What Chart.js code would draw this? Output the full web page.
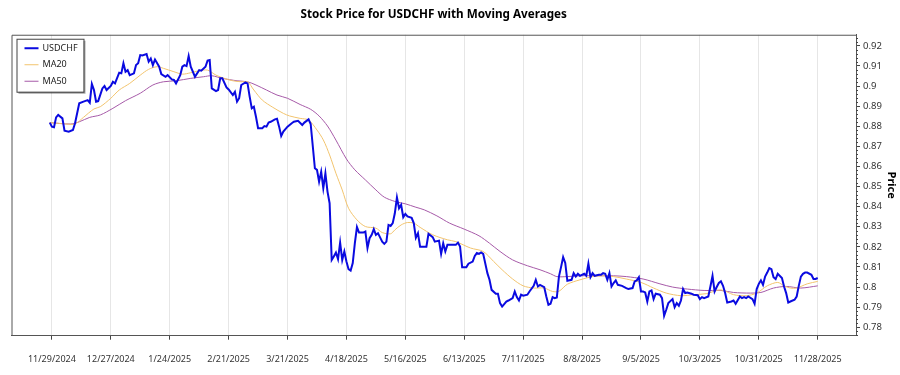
<!DOCTYPE html>
<html>
<head>
<meta charset="utf-8">
<script src="https://cdn.jsdelivr.net/npm/chart.js@4/dist/chart.umd.min.js"></script>
<style>
html,body{margin:0;padding:0;background:#fff;}
#wrap{width:900px;height:375px;position:relative;}
</style>
</head>
<body>
<div id="wrap"><canvas id="c" width="900" height="375"></canvas></div>
<script>
// Base date for day offsets
const BASE_DATE = "11/29/2024";
const xTickLabels = ["11/29/2024","12/27/2024","1/24/2025","2/21/2025","3/21/2025","4/18/2025","5/16/2025","6/13/2025","7/11/2025","8/8/2025","9/5/2025","10/3/2025","10/31/2025","11/28/2025"];
const yTickValues = [0.78,0.79,0.80,0.81,0.82,0.83,0.84,0.85,0.86,0.87,0.88,0.89,0.90,0.91,0.92];

// USDCHF close (days since BASE_DATE)
const priceDays = [-1,0,1,2,3,5,6,8,10,11,13,15,17,18,19,20,21,22,24,25,26,28,29,30,32,33,34,35,36,37,39,40,41,42,43,45,46,47,48,49,51,52,54,55,57,58,59,61,62,63,64,65,66,68,70,71,73,74,75,76,78,79,80,81,83,84,86,87,88,89,90,92,93,94,95,96,97,98,100,101,102,103,104,106,107,108,109,110,112,114,115,117,119,120,122,123,125,126,127,128,129,130,131,132,133,134,135,136,137,138,139,140,141,142,143,144,145,146,148,149,150,151,152,153,154,155,157,158,159,160,161,162,163,164,165,166,167,168,169,171,172,173,174,175,176,178,179,181,182,184,185,186,187,188,190,192,193,194,195,197,198,200,201,202,203,204,205,207,208,209,211,212,213,214,216,217,219,220,221,222,223,224,226,227,229,230,231,232,234,235,236,237,238,239,240,241,242,243,244,245,247,248,249,250,251,253,254,255,256,257,258,260,261,262,263,264,265,266,267,268,269,271,273,274,276,277,278,279,280,281,282,283,284,285,286,287,289,290,291,292,293,295,296,297,298,299,300,301,302,304,305,307,308,309,310,312,313,314,315,316,317,318,319,320,321,323,324,325,327,328,329,330,331,333,334,335,336,337,338,339,340,341,342,343,344,345,347,348,349,350,351,353,354,355,356,357,358,359,361,362,363,364];
const priceValues = [0.8818,0.8798,0.8795,0.8844,0.8856,0.8839,0.8778,0.8773,0.8781,0.8815,0.8914,0.8922,0.8930,0.8917,0.9010,0.8980,0.8922,0.8925,0.8988,0.9000,0.8980,0.9000,0.9021,0.9013,0.9066,0.9063,0.9113,0.9071,0.9079,0.9054,0.9063,0.9104,0.9113,0.9154,0.9152,0.9159,0.9121,0.9137,0.9104,0.9132,0.9096,0.9059,0.9046,0.9054,0.9033,0.9030,0.9013,0.9054,0.9096,0.9104,0.9099,0.9149,0.9096,0.9046,0.9079,0.9076,0.9096,0.9126,0.9129,0.8988,0.8975,0.8980,0.9038,0.9038,0.8993,0.8983,0.8955,0.8971,0.8922,0.8939,0.9005,0.9018,0.9013,0.8947,0.8889,0.8897,0.8847,0.8790,0.8790,0.8801,0.8798,0.8818,0.8822,0.8834,0.8837,0.8798,0.8751,0.8773,0.8798,0.8815,0.8822,0.8827,0.8806,0.8818,0.8834,0.8811,0.8591,0.8583,0.8524,0.8574,0.8492,0.8566,0.8475,0.8417,0.8135,0.8152,0.8172,0.8139,0.8221,0.8135,0.8177,0.8127,0.8089,0.8082,0.8119,0.8218,0.8298,0.8271,0.8271,0.8276,0.8194,0.8243,0.8260,0.8288,0.8260,0.8268,0.8226,0.8215,0.8226,0.8309,0.8304,0.8318,0.8367,0.8446,0.8392,0.8409,0.8347,0.8364,0.8351,0.8344,0.8318,0.8245,0.8268,0.8201,0.8201,0.8201,0.8265,0.8248,0.8226,0.8231,0.8165,0.8218,0.8177,0.8210,0.8210,0.8210,0.8221,0.8201,0.8099,0.8099,0.8116,0.8127,0.8155,0.8169,0.8165,0.8172,0.8165,0.8069,0.8036,0.7986,0.7967,0.7967,0.7920,0.7903,0.7928,0.7933,0.7945,0.7978,0.7950,0.7933,0.7962,0.7957,0.7962,0.7978,0.8006,0.8036,0.8003,0.8011,0.8000,0.7953,0.7912,0.7917,0.7950,0.7945,0.7948,0.8052,0.8099,0.8149,0.8120,0.8031,0.8036,0.8069,0.8052,0.8066,0.8056,0.8066,0.8056,0.8116,0.8049,0.8069,0.8056,0.8061,0.8061,0.8069,0.8066,0.8036,0.8069,0.8003,0.8020,0.8033,0.8011,0.8006,0.7995,0.7990,0.7995,0.8028,0.8033,0.8049,0.7978,0.7978,0.7973,0.7928,0.7978,0.7983,0.7940,0.7967,0.7962,0.7945,0.7857,0.7887,0.7920,0.7940,0.7900,0.7920,0.7907,0.7933,0.7990,0.7970,0.7973,0.7967,0.7962,0.7959,0.7940,0.7950,0.7945,0.7953,0.8003,0.8056,0.7978,0.8000,0.8020,0.8028,0.8006,0.7970,0.7923,0.7928,0.7933,0.7917,0.7953,0.7945,0.7950,0.7945,0.7953,0.7940,0.7917,0.7990,0.8016,0.8033,0.8011,0.8052,0.8072,0.8094,0.8089,0.8049,0.8040,0.8066,0.8045,0.8003,0.7970,0.7923,0.7928,0.7937,0.7953,0.8006,0.8052,0.8066,0.8072,0.8072,0.8061,0.8040,0.8040,0.8045];

// 20-day moving average
const ma20Days = [-1,7,11,15,20,23,28,32,37,42,46,50,53,58,62,66,70,74,78,82,86,90,93,96,100,105,110,113,118,122,126,129,132,135,138,141,145,149,154,157,161,163,166,169,172,175,181,188,192,199,205,210,214,219,224,229,234,238,241,245,251,257,262,267,273,280,286,292,299,305,311,318,324,330,335,340,345,348,351,354,359,364];
const ma20Values = [0.8818,0.8811,0.8811,0.8844,0.8886,0.8897,0.8939,0.8980,0.9013,0.9054,0.9083,0.9096,0.9088,0.9071,0.9059,0.9066,0.9076,0.9079,0.9054,0.9038,0.9026,0.9021,0.9021,0.8980,0.8930,0.8894,0.8864,0.8851,0.8839,0.8831,0.8781,0.8732,0.8657,0.8566,0.8483,0.8392,0.8334,0.8301,0.8293,0.8271,0.8265,0.8284,0.8309,0.8321,0.8318,0.8297,0.8260,0.8235,0.8226,0.8194,0.8177,0.8127,0.8086,0.8040,0.8006,0.7995,0.7995,0.7978,0.7979,0.8014,0.8036,0.8052,0.8056,0.8052,0.8040,0.8023,0.7995,0.7970,0.7957,0.7962,0.7967,0.7986,0.7962,0.7957,0.7970,0.8006,0.8023,0.8006,0.7995,0.7995,0.8016,0.8028];

// 50-day moving average
const ma50Days = [-1,9,13,18,23,29,35,42,48,53,59,66,72,76,81,88,93,97,102,107,112,118,123,127,131,135,140,144,149,154,158,163,168,173,177,183,189,196,203,208,213,219,226,232,237,240,245,251,260,267,273,281,289,295,302,310,318,324,332,337,343,349,356,364];
const ma50Values = [0.8818,0.8811,0.8822,0.8844,0.8856,0.8889,0.8927,0.8964,0.9005,0.9021,0.9026,0.9038,0.9046,0.9051,0.9038,0.9026,0.9021,0.9005,0.8980,0.8955,0.8939,0.8908,0.8884,0.8851,0.8801,0.8731,0.8637,0.8583,0.8533,0.8483,0.8447,0.8426,0.8414,0.8397,0.8384,0.8354,0.8318,0.8288,0.8255,0.8218,0.8177,0.8135,0.8106,0.8086,0.8066,0.8052,0.8052,0.8056,0.8056,0.8056,0.8052,0.8040,0.8016,0.8000,0.7990,0.7983,0.7983,0.7973,0.7970,0.7973,0.7995,0.8003,0.7995,0.8006];

function parseMDY(s){const p=s.split('/').map(Number);return Date.UTC(p[2],p[0]-1,p[1]);}
const base = parseMDY(BASE_DATE);
const dayOf = s => Math.round((parseMDY(s)-base)/86400000);
const xTickDays = xTickLabels.map(dayOf);
const toPts = (xs, ys) => xs.map((x,i)=>({x:x,y:ys[i]}));

const FONT = "'Noto Sans', 'Open Sans', sans-serif";

const frame = {
  id:'frame',
  afterDatasetsDraw(chart){
    const {ctx, chartArea:a} = chart;
    const ys = chart.scales.y;
    ctx.save();
    // left & top border
    ctx.strokeStyle = '#555';
    ctx.lineWidth = 1;
    ctx.beginPath();
    ctx.moveTo(a.left+0.5, a.bottom); ctx.lineTo(a.left+0.5, a.top+0.5); ctx.lineTo(a.right, a.top+0.5);
    ctx.stroke();
    // minor ticks on right axis
    ctx.strokeStyle = '#444';
    ctx.beginPath();
    for (let k = 776; k <= 925; k += 2) {
      if (k % 10 === 0) continue;
      const py = Math.round(ys.getPixelForValue(k/1000)) + 0.5;
      ctx.moveTo(a.right, py); ctx.lineTo(a.right+2, py);
    }
    ctx.stroke();
    // legend box
    const lx = a.left + 5, ly = a.top + 4, lw = 67, lh = 53;
    ctx.fillStyle = 'rgba(0,0,0,0.35)';
    ctx.fillRect(lx+2, ly+2, lw, lh);
    ctx.fillStyle = '#fff';
    ctx.fillRect(lx, ly, lw, lh);
    ctx.strokeStyle = '#444';
    ctx.strokeRect(lx+0.5, ly+0.5, lw, lh);
    ctx.font = "9px " + FONT;
    ctx.textBaseline = 'middle';
    chart.data.datasets.forEach((ds, i) => {
      const yy = ly + 9.5 + i*16.5;
      ctx.strokeStyle = ds.borderColor;
      ctx.lineWidth = ds.borderWidth;
      ctx.beginPath(); ctx.moveTo(lx+8, yy); ctx.lineTo(lx+22, yy); ctx.stroke();
      ctx.fillStyle = '#222';
      ctx.fillText(ds.label, lx+26, yy);
    });
    ctx.restore();
  }
};

new Chart(document.getElementById('c'), {
  type: 'line',
  data: {
    datasets: [
      {label:'USDCHF', data: toPts(priceDays, priceValues), borderColor:'#0a0ae0', borderWidth:2, pointRadius:0, tension:0},
      {label:'MA20', data: toPts(ma20Days, ma20Values), borderColor:'#f2c46e', borderWidth:1, pointRadius:0, tension:0.3},
      {label:'MA50', data: toPts(ma50Days, ma50Values), borderColor:'#a65aa8', borderWidth:1, pointRadius:0, tension:0.3}
    ]
  },
  options: {
    responsive:false,
    animation:false,
    devicePixelRatio:1,
    layout:{padding:{left:11.5, right:0, top:0, bottom:0}},
    plugins:{
      legend:{display:false},
      tooltip:{enabled:false},
      title:{display:true, text:'Stock Price for USDCHF with Moving Averages', fullSize:false,
        color:'#000', font:{family:FONT, size:11.7, weight:'bold'}, padding:{top:7.5, bottom:13.2}}
    },
    scales:{
      x:{type:'linear', min:-19.2, max:382.2,
        afterBuildTicks(s){ s.ticks = xTickDays.map(v=>({value:v})); },
        afterFit(s){ s.height = 39.3; },
        ticks:{autoSkip:false, maxRotation:0, padding:14.5, color:'#333', font:{family:FONT, size:9},
          callback(v){ const i = xTickDays.indexOf(v); return i>=0 ? xTickLabels[i] : ''; }},
        grid:{color:'#e6e6e6', tickColor:'#444', tickLength:4, drawOnChartArea:true},
        border:{color:'#555', width:1}
      },
      y:{type:'linear', position:'right', min:0.7758, max:0.9255,
        afterBuildTicks(s){ s.ticks = yTickValues.map(v=>({value:v})); },
        afterFit(s){ s.width = 44; },
        ticks:{padding:3, color:'#333', font:{family:FONT, size:9.5},
          callback(v){ return String(+v.toFixed(2)); }},
        grid:{drawOnChartArea:false, tickColor:'#444', tickLength:4},
        border:{color:'#555', width:1},
        title:{display:true, text:'Price', color:'#000', font:{family:FONT, size:11, weight:'bold'}, padding:{top:2.5, bottom:0}}
      }
    }
  },
  plugins:[frame]
});
</script>
</body>
</html>
